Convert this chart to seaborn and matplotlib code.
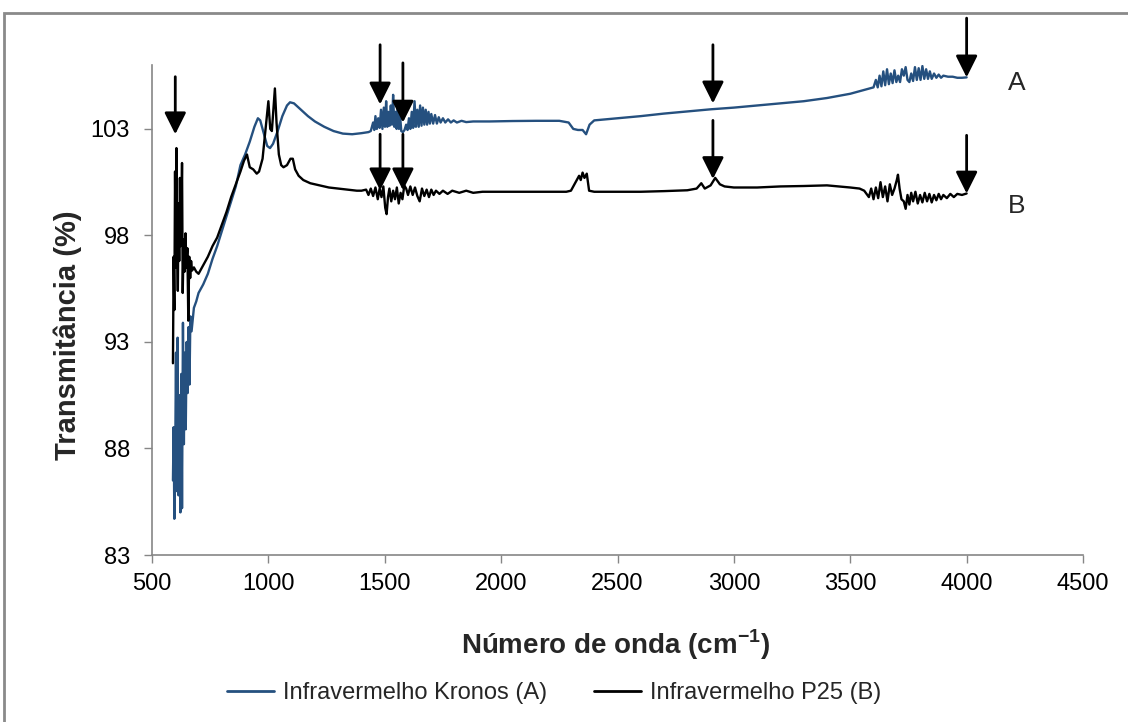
import numpy as np
import pandas as pd
import matplotlib
matplotlib.use("Agg")
import matplotlib.pyplot as plt
from matplotlib.patches import Rectangle
import seaborn as sns

# ---------------- data ----------------
wn_A = [590, 593, 596, 600, 603, 606, 610, 614, 618, 622, 626, 629, 633, 637, 641, 645, 649, 653, 657, 661,
        665, 670, 680, 690, 700, 720, 740, 760, 780, 800, 820, 840, 860, 880, 900, 920, 940, 955, 965, 980,
        995, 1007, 1020, 1040, 1060, 1080, 1093, 1110, 1140, 1170, 1200, 1240, 1280, 1320, 1360, 1400, 1430,
        1440, 1450, 1455, 1460, 1466, 1472, 1478, 1484, 1490, 1496, 1501, 1506, 1511, 1516, 1521, 1526, 1531,
        1536, 1541, 1546, 1551, 1556, 1561, 1566, 1571, 1578, 1585, 1592, 1598, 1604, 1610, 1616, 1622, 1628,
        1634, 1640, 1646, 1652, 1658, 1664, 1670, 1676, 1682, 1688, 1694, 1700, 1708, 1716, 1724, 1732, 1740,
        1750, 1760, 1772, 1784, 1796, 1810, 1830, 1850, 1880, 1950, 2050, 2150, 2250, 2290, 2310, 2330, 2350,
        2365, 2380, 2400, 2500, 2600, 2700, 2800, 2900, 3000, 3100, 3200, 3300, 3400, 3500, 3550, 3600, 3610,
        3618, 3626, 3634, 3642, 3650, 3658, 3666, 3674, 3682, 3690, 3698, 3706, 3714, 3722, 3730, 3738, 3746,
        3754, 3762, 3770, 3778, 3786, 3794, 3802, 3810, 3818, 3826, 3834, 3842, 3850, 3860, 3870, 3880, 3890,
        3900, 3920, 3940, 3960, 3980, 4000]
trans_A = [86.5, 89.0, 84.7, 88.0, 92.5, 86.0, 93.2, 85.8, 90.5, 85.0, 91.5, 85.2, 93.9, 88.2, 92.5, 88.9, 93.0, 90.6, 93.7, 91.0,
           94.2, 93.5, 94.6, 94.9, 95.3, 95.7, 96.2, 96.9, 97.5, 98.2, 98.9, 99.6, 100.3, 101.3, 101.8, 102.4, 103.1, 103.5, 103.4, 102.8,
           102.2, 102.1, 102.3, 102.9, 103.6, 104.1, 104.25, 104.2, 103.9, 103.6, 103.35, 103.1, 102.9, 102.78, 102.75, 102.8, 102.85,
           102.9, 103.3, 102.95, 103.6, 103.0, 103.5, 103.05, 103.9, 103.0, 104.0, 103.1, 104.3, 103.1, 103.8, 103.15, 104.1, 103.2,
           104.6, 103.1, 103.8, 103.0, 104.2, 103.0, 103.6, 102.9, 102.85, 102.95, 103.2, 102.95, 103.5, 103.0, 103.8, 103.05, 104.3,
           103.1, 103.9, 103.1, 104.1, 103.15, 104.0, 103.2, 103.9, 103.2, 103.8, 103.25, 103.7, 103.25, 103.65, 103.25, 103.55, 103.3,
           103.5, 103.3, 103.45, 103.3, 103.4, 103.3, 103.38, 103.32, 103.35, 103.35, 103.37, 103.38, 103.38, 103.3, 103.0, 102.95, 102.95,
           102.75, 103.2, 103.4, 103.5, 103.6, 103.72, 103.82, 103.92, 104.0, 104.1, 104.2, 104.3, 104.45, 104.65, 104.8, 104.95, 105.3,
           104.95, 105.5, 105.0, 105.7, 105.05, 105.8, 105.1, 105.6, 105.15, 105.75, 105.2, 105.5, 105.2, 105.8, 105.5, 105.9, 105.3,
           105.2, 105.6, 105.25, 105.9, 105.3, 105.85, 105.3, 105.95, 105.35, 105.8, 105.35, 105.7, 105.35, 105.6, 105.4, 105.55, 105.4,
           105.5, 105.45, 105.45, 105.4, 105.4, 105.42]

wn_B = [590, 593, 596, 599, 602, 605, 608, 611, 614, 617, 620, 623, 626, 629, 632, 636, 640, 644, 648, 652,
        656, 660, 664, 668, 672, 680, 690, 700, 710, 720, 740, 760, 780, 800, 820, 840, 860, 880, 895, 908,
        920, 935, 950, 960, 975, 990, 1000, 1008, 1015, 1022, 1028, 1035, 1045, 1055, 1065, 1080, 1095, 1105,
        1115, 1130, 1150, 1180, 1220, 1260, 1300, 1340, 1380, 1400, 1420, 1430, 1440, 1450, 1460, 1470, 1478,
        1486, 1494, 1502, 1508, 1514, 1520, 1528, 1536, 1544, 1552, 1560, 1568, 1576, 1584, 1592, 1600, 1610,
        1620, 1630, 1640, 1650, 1660, 1670, 1680, 1690, 1700, 1710, 1720, 1735, 1750, 1770, 1790, 1820, 1850,
        1880, 1920, 2000, 2100, 2200, 2280, 2300, 2320, 2335, 2342, 2350, 2358, 2368, 2378, 2400, 2500, 2600,
        2700, 2800, 2840, 2860, 2875, 2900, 2920, 2940, 2960, 3000, 3100, 3200, 3300, 3400, 3450, 3500, 3540,
        3560, 3580, 3590, 3600, 3610, 3620, 3630, 3640, 3650, 3660, 3670, 3680, 3690, 3700, 3705, 3712, 3720,
        3730, 3738, 3746, 3754, 3762, 3770, 3780, 3790, 3800, 3810, 3820, 3830, 3840, 3850, 3860, 3870, 3880,
        3890, 3900, 3915, 3930, 3945, 3960, 3980, 4000]
trans_B = [92.0, 97.0, 94.5, 101.0, 96.5, 102.1, 97.5, 95.4, 99.5, 96.8, 100.7, 97.5, 98.7, 101.4, 95.3, 97.8, 96.3, 98.1, 96.5, 97.4,
           94.0, 97.0, 96.0, 96.8, 96.35, 96.5, 96.3, 96.2, 96.4, 96.6, 97.0, 97.5, 97.9, 98.5, 99.1, 99.8, 100.4, 101.0, 101.5, 101.8,
           101.2, 101.1, 100.9, 101.0, 101.6, 103.2, 104.3, 103.0, 102.9, 104.0, 104.9, 103.3, 101.8, 101.3, 101.2, 101.3, 101.6, 101.6,
           101.1, 100.8, 100.6, 100.45, 100.35, 100.25, 100.2, 100.15, 100.1, 100.1, 100.15, 99.9, 100.2, 99.85, 100.25, 99.7, 100.2,
           99.8, 100.3, 99.3, 99.0, 99.8, 100.2, 99.6, 100.1, 99.7, 100.25, 99.5, 100.0, 99.7, 100.35, 100.2, 99.9, 100.3,
           99.9, 100.25, 99.85, 99.6, 100.2, 99.85, 100.15, 99.8, 100.15, 99.9, 100.1, 99.95, 100.1, 99.95, 100.1, 100.0, 100.1,
           100.0, 100.05, 100.05, 100.05, 100.05, 100.05, 100.1, 100.5, 100.8, 100.6, 100.95, 100.7, 100.9, 100.1, 100.05, 100.05, 100.05,
           100.08, 100.12, 100.2, 100.45, 100.2, 100.35, 100.7, 100.4, 100.3, 100.25, 100.25, 100.3, 100.32, 100.35, 100.3, 100.25, 100.2,
           100.1, 99.8, 100.2, 99.7, 100.25, 99.75, 100.5, 99.8, 100.3, 99.6, 100.4, 99.9, 100.2, 100.6, 100.85, 100.2, 99.7,
           99.6, 99.25, 99.9, 99.45, 100.0, 99.6, 100.05, 99.5, 99.9, 99.55, 100.0, 99.6, 99.95, 99.55, 99.9, 99.65, 99.95,
           99.7, 99.9, 99.75, 99.95, 99.8, 99.95, 99.9, 99.97]

series_names = ["Infravermelho Kronos (A)", "Infravermelho P25 (B)"]
series_colors = ["#25507f", "#000000"]
x_ticks = [500, 1000, 1500, 2000, 2500, 3000, 3500, 4000, 4500]
y_ticks = [83, 88, 93, 98, 103]

# arrows: (wavenumber, start transmittance, tip transmittance)
arrow_x = [600, 1480, 1578, 1480, 1578, 2910, 2910, 4000, 4000]
arrow_y0 = [105.45, 106.95, 106.1, 102.75, 102.75, 106.95, 103.4, 108.2, 102.7]
arrow_y1 = [102.75, 104.15, 103.3, 100.12, 100.12, 104.2, 100.65, 105.42, 99.97]

# ---------------- plotting ----------------
sns.set_theme(style="ticks")
plt.rcParams["font.family"] = ["Liberation Sans", "DejaVu Sans"]

df = pd.concat([
    pd.DataFrame({"wn": wn_A, "T": trans_A, "s": series_names[0]}),
    pd.DataFrame({"wn": wn_B, "T": trans_B, "s": series_names[1]}),
])

fig = plt.figure(figsize=(11.28, 7.22), dpi=100)
ax = fig.add_axes([152 / 1128, 1 - 555 / 722, (1083 - 152) / 1128, (555 - 65) / 722])

sns.lineplot(data=df, x="wn", y="T", hue="s", palette=dict(zip(series_names, series_colors)),
             estimator=None, linewidth=1.7, ax=ax, legend=False)

ax.set_xlim(500, 4500)
ax.set_ylim(83, 106)
ax.set_xticks(x_ticks)
ax.set_yticks(y_ticks)
ax.tick_params(axis="both", labelsize=17, colors="#868686", labelcolor="black",
               length=6, width=1, direction="out")
ax.tick_params(axis="x", pad=7)
ax.tick_params(axis="y", pad=10)
for side in ["top", "right"]:
    ax.spines[side].set_visible(False)
for side in ["left", "bottom"]:
    ax.spines[side].set_color("#868686")
    ax.spines[side].set_linewidth(1.2)

ax.set_xlabel("Número de onda (cm$^{\\mathregular{-1}}$)", fontsize=20, fontweight="bold")
ax.xaxis.set_label_coords((616 - 152) / 931, (555 - 628) / 490)
ax.set_ylabel("Transmitância (%)", fontsize=21, fontweight="bold")
ax.yaxis.set_label_coords((82 - 152) / 931, (555 - 335) / 490)

for x, y0, y1 in zip(arrow_x, arrow_y0, arrow_y1):
    ax.annotate("", xy=(x, y1), xytext=(x, y0), xycoords="data", annotation_clip=False,
                arrowprops=dict(arrowstyle="-|>,head_length=1.1,head_width=0.55", color="black",
                                lw=2, shrinkA=0, shrinkB=0))

ax.text(4177, 105.15, "A", fontsize=19, va="center", ha="left")
ax.text(4177, 99.4, "B", fontsize=19, va="center", ha="left")

handles = [plt.Line2D([], [], color=c, lw=2) for c in series_colors]
fig.legend(handles, series_names, loc="center", bbox_to_anchor=(554 / 1128, 1 - 693 / 722), ncol=2,
           frameon=False, fontsize=17, handlelength=2.0, handletextpad=0.35, columnspacing=2.0)

fig.add_artist(Rectangle((4 / 1128, -0.05), 1.1, 1.05 - 13 / 722, transform=fig.transFigure,
                         fill=False, edgecolor="#8a8a8a", lw=2))

fig.savefig("out.png", dpi=100)
